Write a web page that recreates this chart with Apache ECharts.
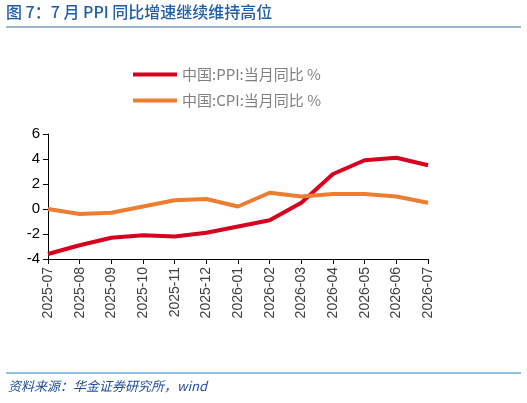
<!DOCTYPE html>
<html><head><meta charset="utf-8">
<script src="https://cdn.jsdelivr.net/npm/echarts@6/dist/echarts.min.js"></script>
<style>html,body{margin:0;padding:0;background:#fff}#c{width:527px;height:403px}</style>
</head><body><div id="c"></div>
<script>
const categories=['2025-07','2025-08','2025-09','2025-10','2025-11','2025-12','2026-01','2026-02','2026-03','2026-04','2026-05','2026-06','2026-07'];
const ppi=[-3.6,-2.9,-2.3,-2.1,-2.2,-1.9,-1.4,-0.9,0.5,2.8,3.9,4.1,3.5];
const cpi=[0,-0.4,-0.3,0.2,0.7,0.8,0.2,1.3,1.0,1.2,1.2,1.0,0.5];
const yTicks=[-4,-2,0,2,4,6];
const chart=echarts.init(document.getElementById('c'));
const font='"Noto Sans CJK SC",sans-serif';
chart.setOption({
  animation:false,
  textStyle:{fontFamily:font},
  graphic:[
    {type:'text',left:6,top:4,style:{text:'图 7：7 月 PPI 同比增速继续维持高位',fill:'#1f5ea8',font:'500 16px '+font}},
    {type:'line',shape:{x1:6,y1:27,x2:521,y2:27},style:{stroke:'#2e75b6',lineWidth:1.2}},
    {type:'line',shape:{x1:6,y1:373,x2:521,y2:373},style:{stroke:'#6fa8d8',lineWidth:1.5}},
    {type:'text',left:8,top:380,style:{text:'资料来源：华金证券研究所，wind',fill:'#1f4e9c',font:'italic 13px '+font}}
  ],
  legend:{orient:'vertical',left:128,top:62,itemGap:11,itemWidth:44,itemHeight:4,icon:'rect',
    textStyle:{color:'#808080',fontSize:15,fontFamily:font},
    data:['中国:PPI:当月同比 %','中国:CPI:当月同比 %']},
  grid:{left:48,right:99,top:134,bottom:144},
  xAxis:{type:'category',data:categories,boundaryGap:false,
    axisLine:{onZero:false,lineStyle:{color:'#000'}},axisTick:{show:true,alignWithLabel:true,lineStyle:{color:'#000'}},
    axisLabel:{rotate:90,color:'#404040',fontSize:14,fontFamily:'Liberation Sans',interval:0}},
  yAxis:{type:'value',min:-4,max:6,interval:2,
    axisLine:{show:true,lineStyle:{color:'#000'}},axisTick:{show:true,lineStyle:{color:'#000'}},
    splitLine:{show:false},axisLabel:{color:'#000',fontSize:15,fontFamily:'Liberation Sans'}},
  series:[
    {name:'中国:PPI:当月同比 %',type:'line',data:ppi,symbol:'none',lineStyle:{width:4,color:'#d7001e'},itemStyle:{color:'#d7001e'}},
    {name:'中国:CPI:当月同比 %',type:'line',data:cpi,symbol:'none',lineStyle:{width:4,color:'#ed7d31'},itemStyle:{color:'#ed7d31'}}
  ]
});
</script></body></html>
